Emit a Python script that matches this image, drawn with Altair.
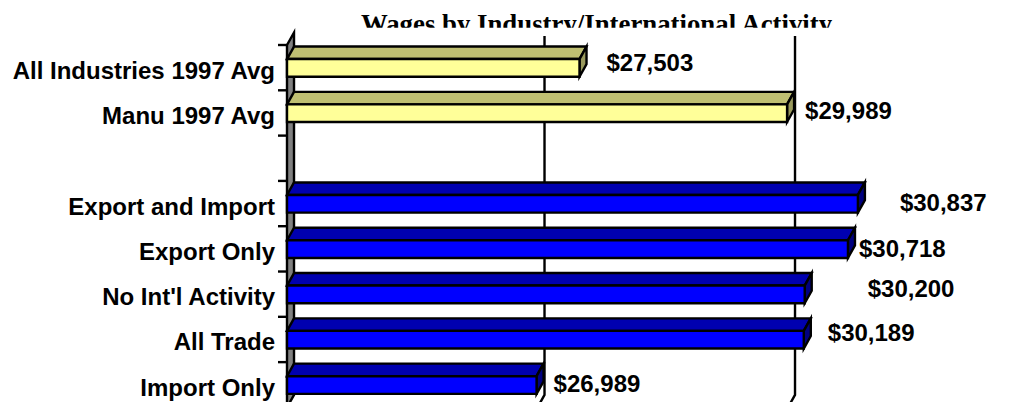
import altair as alt
import pandas as pd

title_text = "Wages by Industry/International Activity"
categories = ["All Industries 1997 Avg", "Manu 1997 Avg", "", "Export and Import", "Export Only",
              "No Int'l Activity", "All Trade", "Import Only"]
values = [27503, 29989, None, 30837, 30718, 30200, 30189, 26989]
group = ["avg", "avg", None, "trade", "trade", "trade", "trade", "trade"]
label_dx = [27, 18, 0, 42, 11, 63, 24, 17]
label_dy = [-3.6, -1, 0, 0, 1, -4, -5.5, 0]
grid_values = [27000, 30000]

BASE = 24000
DEPTH_X = 84
DEPTH_Y = 0.276
TOP = 0.31
BOT = 0.70
LW = 2.4
FONT = "Liberation Sans"
FS = 24

xs = alt.Scale(domain=[BASE, 32000], nice=False, zero=False)
ys = alt.Scale(domain=[-0.287, 7.88], nice=False, zero=False, reverse=True)
X = lambda f: alt.X(f, type="quantitative", scale=xs, axis=None, stack=None)
Y = lambda f: alt.Y(f, type="quantitative", scale=ys, axis=None, stack=None)
cols = {"front": {"avg": "#FFFF99", "trade": "#0000FF"},
        "top": {"avg": "#BFBF72", "trade": "#0000B0"},
        "side": {"avg": "#99995C", "trade": "#000080"}}

bars = []
tops = []
sides = []
for i, (c, v, g) in enumerate(zip(categories, values, group)):
    if v is None:
        continue
    bars.append(dict(cat=c, row0=i + TOP, row1=i + BOT, v=v, base=BASE,
                     color=cols["front"][g], dx=label_dx[i], dy=label_dy[i], mid=i + 0.5))
    tops += [dict(cat=c, y=i + TOP, a=BASE, b=v, color=cols["top"][g]),
             dict(cat=c, y=i + TOP - DEPTH_Y, a=BASE + DEPTH_X, b=v + DEPTH_X, color=cols["top"][g])]
    sides += [dict(cat=c, x=v, y0=i + TOP, y1=i + BOT, color=cols["side"][g]),
              dict(cat=c, x=v + DEPTH_X, y0=i + TOP - DEPTH_Y, y1=i + BOT - DEPTH_Y, color=cols["side"][g])]
bars = pd.DataFrame(bars)
tops = pd.DataFrame(tops)
sides = pd.DataFrame(sides)

wall = alt.Chart(pd.DataFrame({"x": [BASE, BASE + DEPTH_X], "y0": [0, -DEPTH_Y], "y1": [8, 8 - DEPTH_Y]})).mark_area(
    color="#808080", stroke="black", strokeWidth=LW).encode(x=X("x"), y=Y("y0"), y2="y1")

grid = []
for gv in grid_values:
    grid.append(dict(g=gv, x=gv + DEPTH_X, y=-0.2, o=0))
    grid.append(dict(g=gv, x=gv + DEPTH_X, y=8 - DEPTH_Y, o=1))
    grid.append(dict(g=gv, x=gv, y=8, o=2))
grid_chart = alt.Chart(pd.DataFrame(grid)).mark_line(color="black", strokeWidth=LW).encode(
    x=X("x"), y=Y("y"), detail="g:N", order="o:Q")

ticks = alt.Chart(pd.DataFrame({"row": list(range(len(categories) + 1))})).mark_rule(
    color="black", strokeWidth=LW).encode(x=alt.value(-9), x2=alt.value(0), y=Y("row"))

cat_labels = alt.Chart(pd.DataFrame({"cat": categories, "mid": [i + 0.5 for i in range(len(categories))]})).mark_text(
    align="right", baseline="middle", font=FONT, fontWeight="bold", fontSize=FS, dy=4, color="black"
).encode(x=alt.value(-12), y=Y("mid"), text="cat:N")

top_faces = alt.Chart(tops).mark_area(orient="horizontal", stroke="black", strokeWidth=LW).encode(
    y=Y("y"), x=X("a"), x2="b", detail="cat:N", color=alt.Color("color:N", scale=None))
side_faces = alt.Chart(sides).mark_area(stroke="black", strokeWidth=LW).encode(
    x=X("x"), y=Y("y0"), y2="y1", detail="cat:N", color=alt.Color("color:N", scale=None))
front = alt.Chart(bars).mark_bar(stroke="black", strokeWidth=LW).encode(
    x=X("base"), x2="v", y=Y("row0"), y2="row1", color=alt.Color("color:N", scale=None))

value_labels = []
for _, r in bars.iterrows():
    value_labels.append(
        alt.Chart(pd.DataFrame([{"v": r.v, "mid": r.mid}])).mark_text(
            align="left", baseline="middle", font=FONT, fontWeight="bold", fontSize=FS,
            dx=float(r.dx), dy=float(r.dy), color="black"
        ).encode(x=X("v"), y=Y("mid"), text=alt.Text("v:Q", format="$,.0f"))
    )

title_chart = alt.Chart(pd.DataFrame({"t": [title_text]})).mark_text(
    align="center", baseline="alphabetic", font="Liberation Serif", fontWeight="bold", fontSize=26.8, color="black"
).encode(x=alt.value(309.5), y=alt.value(1), text="t:N")
title_cover = alt.Chart(pd.DataFrame({"t": [title_text]})).mark_rect(color="white").encode(
    x=alt.value(10), x2=alt.value(600), y=alt.value(-4.3), y2=alt.value(8))

chart = alt.layer(title_chart, title_cover, wall, grid_chart, ticks, cat_labels, top_faces, side_faces, front,
                  *value_labels).properties(
    width=668, height=370, padding={"left": 279, "top": 24, "right": 40, "bottom": 0},
    autosize=alt.AutoSizeParams(type="none"), background="white"
).configure_view(stroke=None)

chart.save("out.html", embed_options={"renderer": "svg", "actions": False})
